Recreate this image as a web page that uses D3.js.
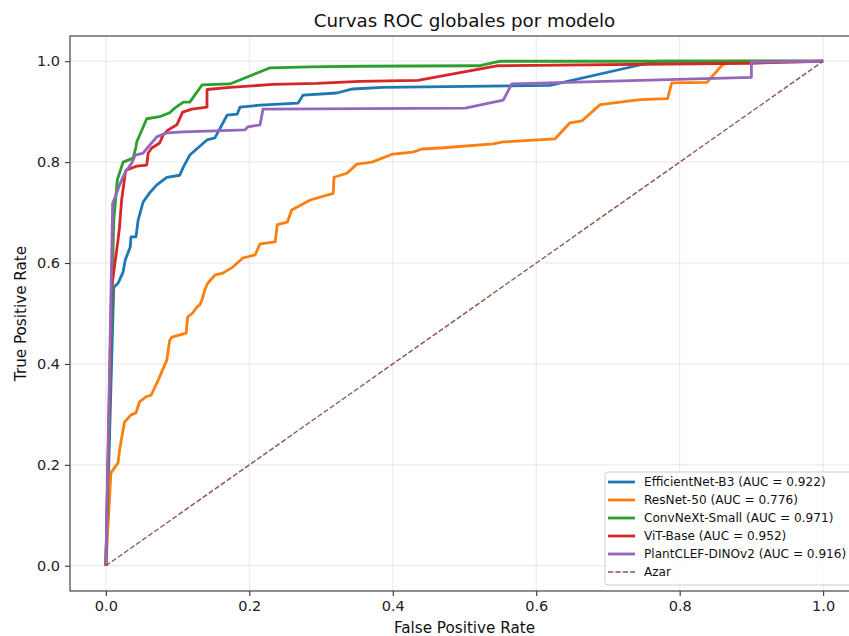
<!DOCTYPE html>
<meta charset="utf-8">
<style>
  body { margin: 0; background: #fff; }
  svg { display: block; font-family: "DejaVu Sans", sans-serif; }
</style>
<svg width="849" height="636"></svg>
<script src="https://cdn.jsdelivr.net/npm/d3@7"></script>
<script>

// model names, AUC values and colours (tab10)
var models = ["EfficientNet-B3", "ResNet-50", "ConvNeXt-Small", "ViT-Base", "PlantCLEF-DINOv2"];
var aucs = [0.922, 0.776, 0.971, 0.952, 0.916];
var colors = ["#1f77b4", "#ff7f0e", "#2ca02c", "#d62728", "#9467bd"];

// ROC points
var fprEfficient = [0, 0.011, 0.017, 0.024, 0.027, 0.034, 0.035, 0.042, 0.045, 0.052, 0.061, 0.071, 0.085, 0.103, 0.108, 0.117, 0.141, 0.152, 0.169, 0.183, 0.187, 0.215, 0.268, 0.275, 0.322, 0.344, 0.386, 0.619, 0.749, 0.77, 1];
var tprEfficient = [0, 0.552, 0.560, 0.582, 0.606, 0.632, 0.652, 0.652, 0.685, 0.721, 0.739, 0.755, 0.770, 0.774, 0.790, 0.814, 0.844, 0.848, 0.893, 0.895, 0.909, 0.913, 0.917, 0.933, 0.937, 0.945, 0.948, 0.952, 0.994, 1, 1];

var fprResNet = [0, 0.007, 0.017, 0.019, 0.026, 0.035, 0.042, 0.047, 0.056, 0.063, 0.073, 0.085, 0.089, 0.092, 0.112, 0.114, 0.121, 0.127, 0.131, 0.134, 0.138, 0.142, 0.152, 0.163, 0.177, 0.191, 0.208, 0.215, 0.236, 0.239, 0.253, 0.259, 0.285, 0.317, 0.318, 0.336, 0.350, 0.371, 0.400, 0.428, 0.441, 0.466, 0.540, 0.554, 0.626, 0.647, 0.664, 0.689, 0.745, 0.783, 0.789, 0.838, 0.859, 0.87, 1];
var tprResNet = [0, 0.184, 0.204, 0.229, 0.285, 0.299, 0.303, 0.325, 0.335, 0.338, 0.368, 0.408, 0.447, 0.453, 0.461, 0.493, 0.501, 0.513, 0.517, 0.527, 0.547, 0.560, 0.576, 0.580, 0.592, 0.610, 0.616, 0.638, 0.642, 0.676, 0.681, 0.705, 0.725, 0.738, 0.770, 0.778, 0.796, 0.800, 0.816, 0.820, 0.826, 0.828, 0.836, 0.840, 0.846, 0.878, 0.882, 0.914, 0.924, 0.926, 0.957, 0.958, 0.992, 1, 1];

var fprConvNeXt = [0, 0.011, 0.016, 0.024, 0.038, 0.042, 0.043, 0.057, 0.075, 0.089, 0.096, 0.108, 0.117, 0.134, 0.173, 0.229, 0.285, 0.354, 0.52, 0.55, 1];
var tprConvNeXt = [0, 0.685, 0.765, 0.800, 0.808, 0.830, 0.840, 0.886, 0.890, 0.898, 0.907, 0.919, 0.919, 0.953, 0.955, 0.987, 0.989, 0.990, 0.991, 1, 1];

var fprViT = [0, 0.008, 0.017, 0.019, 0.022, 0.027, 0.028, 0.043, 0.057, 0.059, 0.064, 0.075, 0.080, 0.087, 0.099, 0.107, 0.120, 0.141, 0.141, 0.173, 0.233, 0.294, 0.354, 0.435, 0.545, 0.9, 1];
var tprViT = [0, 0.550, 0.646, 0.671, 0.725, 0.778, 0.784, 0.792, 0.794, 0.818, 0.828, 0.838, 0.854, 0.864, 0.874, 0.899, 0.905, 0.909, 0.944, 0.948, 0.954, 0.956, 0.960, 0.962, 0.991, 0.996, 1];

var fprPlantCLEF = [0, 0.0095, 0.013, 0.020, 0.027, 0.036, 0.041, 0.052, 0.059, 0.071, 0.085, 0.108, 0.194, 0.198, 0.215, 0.219, 0.501, 0.554, 0.566, 0.9, 0.9, 1];
var tprPlantCLEF = [0, 0.719, 0.731, 0.758, 0.780, 0.798, 0.814, 0.818, 0.830, 0.850, 0.858, 0.860, 0.864, 0.870, 0.874, 0.905, 0.907, 0.923, 0.955, 0.968, 0.998, 1];

var fprSeries = [fprEfficient, fprResNet, fprConvNeXt, fprViT, fprPlantCLEF];
var tprSeries = [tprEfficient, tprResNet, tprConvNeXt, tprViT, tprPlantCLEF];

var ticks = [0, 0.2, 0.4, 0.6, 0.8, 1.0];

var svg = d3.select("svg"),
    plotL = 70, plotR = 859, plotT = 36, plotB = 591;

var x = d3.scaleLinear().domain([-0.05, 1.05]).range([plotL, plotR]);
var y = d3.scaleLinear().domain([-0.05, 1.05]).range([plotB, plotT]);

// grid
var grid = svg.append("g").attr("stroke", "#b0b0b0").attr("stroke-opacity", 0.3).attr("stroke-width", 1);
ticks.forEach(function(t) {
  grid.append("line").attr("x1", x(t)).attr("x2", x(t)).attr("y1", plotT).attr("y2", plotB);
  grid.append("line").attr("x1", plotL).attr("x2", plotR).attr("y1", y(t)).attr("y2", y(t));
});

var line = d3.line()
    .x(function(d) { return x(d[0]); })
    .y(function(d) { return y(d[1]); });

models.forEach(function(m, i) {
  var pts = fprSeries[i].map(function(f, j) { return [f, tprSeries[i][j]]; });
  svg.append("path")
      .datum(pts)
      .attr("d", line)
      .attr("fill", "none")
      .attr("stroke", colors[i])
      .attr("stroke-width", 2.8)
      .attr("stroke-linejoin", "round");
});

// chance line
svg.append("path")
    .datum([[0, 0], [1, 1]])
    .attr("d", line)
    .attr("fill", "none")
    .attr("stroke", "#8c564b")
    .attr("stroke-width", 1.4)
    .attr("stroke-dasharray", "5.2,2.2");

// axes
var fmt = d3.format(".1f");
svg.append("g")
    .attr("transform", "translate(0," + plotB + ")")
    .call(d3.axisBottom(x).tickValues(ticks).tickFormat(fmt).tickSize(5).tickPadding(5))
    .call(function(g) { g.select(".domain").remove(); });
svg.append("g")
    .attr("transform", "translate(" + plotL + ",0)")
    .call(d3.axisLeft(y).tickValues(ticks).tickFormat(fmt).tickSize(5).tickPadding(5))
    .call(function(g) { g.select(".domain").remove(); });
svg.selectAll(".tick text").attr("font-size", 14.5).attr("fill", "#222").attr("font-family", "DejaVu Sans");
svg.selectAll(".tick line").attr("stroke", "#333").attr("stroke-width", 1.1);

svg.append("rect")
    .attr("x", plotL).attr("y", plotT)
    .attr("width", plotR - plotL).attr("height", plotB - plotT)
    .attr("fill", "none").attr("stroke", "#333").attr("stroke-width", 1.1);

// titles
svg.append("text").attr("x", (plotL + plotR) / 2).attr("y", 27)
    .attr("text-anchor", "middle").attr("font-size", 18.3).attr("fill", "#111")
    .text("Curvas ROC globales por modelo");
svg.append("text").attr("x", (plotL + plotR) / 2).attr("y", 633)
    .attr("text-anchor", "middle").attr("font-size", 15.2).attr("fill", "#111")
    .text("False Positive Rate");
svg.append("text").attr("transform", "translate(26," + (plotT + plotB) / 2 + ") rotate(-90)")
    .attr("text-anchor", "middle").attr("font-size", 15.2).attr("fill", "#111")
    .text("True Positive Rate");

// legend
var lg = svg.append("g").attr("transform", "translate(605,472)");
lg.append("rect").attr("width", 250).attr("height", 113).attr("rx", 3)
    .attr("fill", "#fff").attr("fill-opacity", 0.8)
    .attr("stroke", "#ccc").attr("stroke-width", 1);
var labels = models.map(function(m, i) { return m + " (AUC = " + aucs[i].toFixed(3) + ")"; }).concat(["Azar"]);
labels.forEach(function(t, i) {
  var yy = 10 + i * 18;
  lg.append("line").attr("x1", 3).attr("x2", 30).attr("y1", yy).attr("y2", yy)
      .attr("stroke", i < 5 ? colors[i] : "#8c564b")
      .attr("stroke-width", i < 5 ? 2.8 : 1.4)
      .attr("stroke-dasharray", i < 5 ? null : "5.2,2.2");
  lg.append("text").attr("x", 39).attr("y", yy).attr("dy", "0.35em")
      .attr("font-size", 12.1).attr("fill", "#111").text(t);
});

</script>
